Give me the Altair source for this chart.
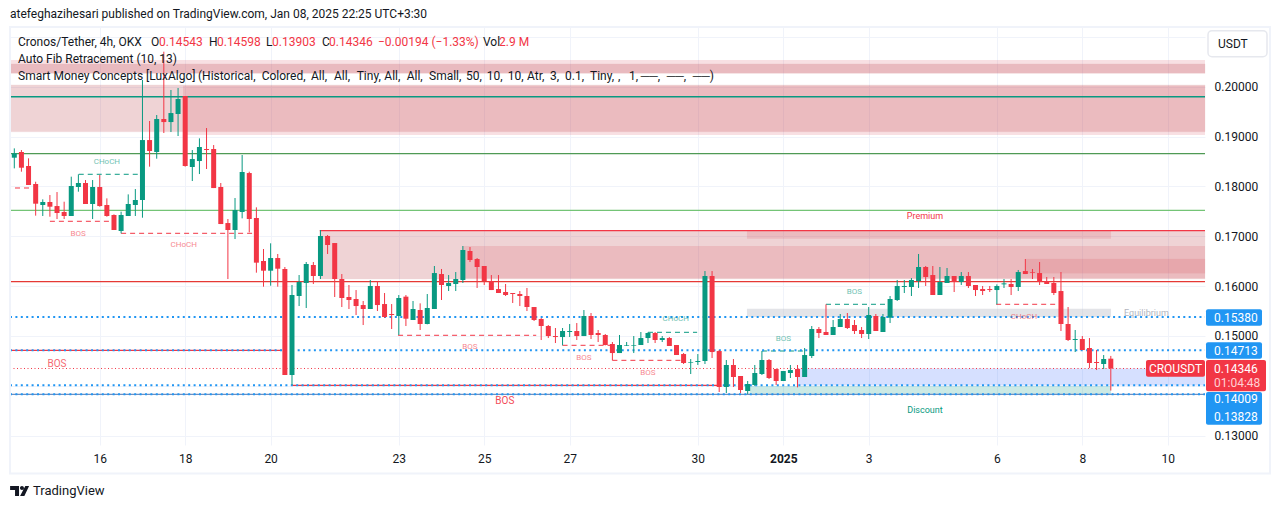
import altair as alt
import pandas as pd

opens = [0.18575,0.18689,0.18408,0.18047,0.17626,0.17686,0.17605,0.17485,0.17405,0.17987,0.18067,0.17646,0.17987,0.17626,0.17425,0.17104,0.17405,0.17626,0.17726,0.18929,0.18689,0.19351,0.19290,0.19451,0.19812,0.18388,0.18508,0.18749,0.18749,0.17987,0.17264,0.17124,0.17485,0.18267,0.17365,
0.16502,0.16308,0.16562,0.16342,0.14215,0.15800,0.16061,0.16422,0.16201,0.17004,0.16863,0.16141,0.15780,0.15740,0.15619,0.15539,0.16001,0.15639,0.15439,0.15399,0.15787,0.15319,0.15519,0.15238,0.15539,0.16241,0.16001,0.16041,0.16121,0.16703,0.16542,0.16402,0.16101,0.15940,0.15880,0.15860,0.15840,0.15800,0.15579,0.15339,0.15198,0.14997,0.14977,0.15078,0.15098,0.14997,0.15399,0.15058,0.15018,0.14837,0.14656,0.14804,0.14804,0.14817,0.14957,0.15058,0.14917,0.14957,0.14817,0.14636,0.14456,0.14476,0.14496,0.16201,0.14696,0.13974,0.14416,0.14195,0.13894,0.14015,0.14235,0.14516,0.14335,0.14095,0.14255,0.14335,0.14175,0.14596,0.15138,0.15078,0.15018,0.15178,0.15339,0.15218,0.15118,0.15038,0.15399,0.15078,0.15365,0.15720,0.15981,0.15981,0.16101,0.16382,0.16221,0.15820,0.16061,0.16201,0.16081,0.16201,0.16021,0.15940,0.15940,0.15920,0.16034,0.16041,0.15981,0.16301,0.16281,0.16261,0.16101,0.16061,0.15900,0.15238,0.14917,0.14937,0.14757,0.14476,0.14436,0.14543]
highs = [0.18762,0.18729,0.18562,0.18093,0.17739,0.17826,0.17886,0.17692,0.18194,0.18241,0.18127,0.18127,0.18227,0.17759,0.17438,0.17492,0.17839,0.17946,0.20133,0.19311,0.19431,0.20702,0.19933,0.19973,0.19812,0.18729,0.18963,0.19170,0.18829,0.18067,0.17345,0.17766,0.18629,0.18294,0.17579,
0.16743,0.16857,0.16643,0.16382,0.16021,0.16221,0.16482,0.16482,0.17124,0.17024,0.16863,0.16241,0.16021,0.15920,0.15700,0.16121,0.16101,0.15860,0.15639,0.15820,0.15820,0.15700,0.15653,0.15840,0.16402,0.16342,0.16221,0.16281,0.16803,0.16783,0.16562,0.16402,0.16221,0.16221,0.16041,0.15860,0.15900,0.15961,0.15579,0.15359,0.15218,0.15158,0.15158,0.15238,0.15258,0.15519,0.15459,0.15118,0.15038,0.14877,0.15018,0.14877,0.14997,0.15078,0.15071,0.15078,0.14997,0.14977,0.14817,0.14656,0.14536,0.14636,0.16301,0.16301,0.14716,0.14516,0.14536,0.14195,0.14095,0.14416,0.14696,0.14536,0.14235,0.14295,0.14416,0.14416,0.14757,0.15198,0.15178,0.15633,0.15319,0.15439,0.15459,0.15319,0.15178,0.15579,0.15439,0.15439,0.15800,0.16121,0.16121,0.16161,0.16643,0.16402,0.16402,0.16382,0.16362,0.16201,0.16281,0.16281,0.16021,0.16001,0.16001,0.16034,0.16141,0.16141,0.16322,0.16542,0.16342,0.16482,0.16181,0.16181,0.16281,0.15579,0.15118,0.14997,0.14957,0.14716,0.14616,0.14598]
lows = [0.18361,0.18294,0.18027,0.17412,0.17405,0.17391,0.17345,0.17345,0.17405,0.17893,0.17646,0.17345,0.17592,0.17391,0.17124,0.17057,0.17405,0.17405,0.17371,0.18395,0.18555,0.19070,0.19090,0.19010,0.18395,0.18107,0.18247,0.18348,0.17966,0.17244,0.16141,0.16943,0.17358,0.17077,0.16268,
0.15987,0.16007,0.15987,0.14215,0.14015,0.15599,0.15559,0.16041,0.16141,0.16643,0.15780,0.15579,0.15539,0.15419,0.15218,0.15539,0.15499,0.15359,0.15138,0.15018,0.15198,0.15319,0.15118,0.15232,0.15539,0.15720,0.15900,0.15900,0.16061,0.16482,0.15961,0.16021,0.15920,0.15860,0.15800,0.15660,0.15599,0.15499,0.15299,0.14917,0.14957,0.14857,0.14810,0.14977,0.14917,0.14997,0.14937,0.14877,0.14810,0.14509,0.14656,0.14797,0.14656,0.14817,0.14857,0.14857,0.14877,0.14797,0.14616,0.14436,0.14235,0.14416,0.14436,0.14556,0.13874,0.13854,0.13974,0.13854,0.13834,0.13995,0.14215,0.14135,0.14015,0.14095,0.14155,0.13968,0.14175,0.14556,0.14957,0.15018,0.15018,0.15178,0.15138,0.15038,0.14957,0.14937,0.15098,0.15078,0.15258,0.15700,0.15860,0.15800,0.15961,0.16001,0.15820,0.15820,0.16061,0.15880,0.16021,0.15961,0.15800,0.15820,0.15880,0.15633,0.15961,0.15820,0.15900,0.16241,0.16141,0.16021,0.16041,0.15820,0.15098,0.14897,0.14676,0.14716,0.14355,0.14315,0.14335,0.13903]
closes = [0.18662,0.18374,0.18027,0.17652,0.17686,0.17592,0.17465,0.17405,0.18007,0.18067,0.17646,0.17987,0.17605,0.17405,0.17124,0.17425,0.17646,0.17726,0.18929,0.18709,0.19351,0.19290,0.19471,0.19752,0.18408,0.18548,0.18789,0.18729,0.17966,0.17244,0.17124,0.17525,0.18288,0.17345,0.16469,
0.16308,0.16562,0.16348,0.14215,0.15820,0.16081,0.16442,0.16201,0.17004,0.16823,0.16141,0.15760,0.15720,0.15599,0.15539,0.16001,0.15619,0.15379,0.15419,0.15760,0.15345,0.15539,0.15238,0.15559,0.16261,0.16021,0.16061,0.16141,0.16723,0.16522,0.16382,0.16101,0.15920,0.15860,0.15820,0.15840,0.15800,0.15579,0.15319,0.15198,0.14997,0.14977,0.15098,0.15098,0.14997,0.15399,0.15018,0.15018,0.14817,0.14656,0.14817,0.14817,0.14817,0.14957,0.15058,0.14917,0.14957,0.14797,0.14616,0.14456,0.14469,0.14496,0.16201,0.14676,0.13974,0.14416,0.14175,0.13914,0.14035,0.14255,0.14516,0.14155,0.14095,0.14295,0.14315,0.14175,0.14616,0.15138,0.15058,0.15018,0.15178,0.15339,0.15158,0.15098,0.15038,0.15419,0.15098,0.15379,0.15740,0.16001,0.16001,0.16121,0.16382,0.16181,0.15820,0.16081,0.16201,0.16081,0.16201,0.16001,0.15920,0.15900,0.15920,0.16001,0.16054,0.15981,0.16281,0.16241,0.16268,0.16081,0.16041,0.15860,0.15238,0.14917,0.14937,0.14716,0.14456,0.14456,0.14536,0.14346]

tick_positions = [12,24,36,54,66,78,96,108,120,138,150,162]
tick_labels = ["16","18","20","23","25","27","30","2025","3","6","8","10"]
price_ticks = [0.13,0.14,0.15,0.16,0.17,0.18,0.19,0.20,0.21]

X_MIN, X_MAX = -0.604, 167.23
Y_MIN, Y_MAX = 0.12811, 0.21197
RED, TEAL, BLUE = "#F23645", "#089981", "#2196F3"
ZONE = "#D63A48"
DARK = "#131722"
FONT = "Roboto"

# x0, x1, low, high, colour, opacity, edge opacity
zones = pd.DataFrame([
    [X_MIN,X_MAX,0.20268,0.20534,ZONE,0.15,0.0],
    [X_MIN,X_MAX,0.20268,0.20454,"#B22833",0.20,0.3],
    [X_MIN,X_MAX,0.19096,0.20033,"#B22833",0.20,0.3],
    [23.7,X_MAX,0.19030,0.20019,ZONE,0.15,0.0],
    [42.9,X_MAX,0.16141,0.17110,"#B22833",0.20,0.2],
    [63.0,X_MAX,0.16155,0.16803,ZONE,0.15,0.0],
    [142.05,X_MAX,0.16256,0.16543,ZONE,0.15,0.2],
    [102.9,154.03,0.16950,0.17110,ZONE,0.15,0.0],
    [102.9,154.03,0.15380,0.15546,"#B2B5BE",0.35,0.0],
    [109.9,X_MAX,0.14005,0.14346,"#2962FF",0.19,0.0],
    [103.3,154.03,0.13828,0.13995,TEAL,0.20,0.0],
], columns=["x0","x1","lo","hi","color","op","edge"])

solid_lines = pd.DataFrame([
    [X_MIN,X_MAX,0.19798,TEAL],
    [X_MIN,X_MAX,0.18655,"#4F9A55"],
    [X_MIN,X_MAX,0.17520,"#74C476"],
    [X_MIN,X_MAX,0.16087,"#E53935"],
    [X_MIN,X_MAX,0.13828,"#6F8FC0"],
    [42.9,X_MAX,0.17110,RED],
    [X_MIN,37.6,0.14711,RED],
    [39.0,98.8,0.14009,RED],
], columns=["x0","x1","p","color"])

dashed_lines = pd.DataFrame([
    [0.1,2.6,0.17967,RED],[9.05,17.5,0.18242,TEAL],[5.0,13.9,0.17299,RED],
    [15.0,33.8,0.17058,RED],[53.9,73.3,0.15012,RED],[77.0,83.7,0.14811,RED],
    [84.0,94.0,0.14510,RED],[89.0,95.9,0.15072,TEAL],[105.0,110.8,0.14697,TEAL],
    [114.0,123.0,0.15634,TEAL],[137.9,146.6,0.15634,RED],
], columns=["x0","x1","p","color"])

blue_lines = pd.DataFrame([
    [X_MIN,37.6,0.15380],[39.8,X_MAX,0.15380],
    [X_MIN,37.6,0.14713],[39.8,X_MAX,0.14713],
    [X_MIN,X_MAX,0.14009],[X_MIN,X_MAX,0.13828],
], columns=["x0","x1","p"])

last_price = pd.DataFrame({"x0":[X_MIN],"x1":[X_MAX],"p":[0.14346]})

notes = pd.DataFrame([
    [13,0.18488,"CHoCH",TEAL,8,0.6],[8.95,0.17054,"BOS",RED,8,0.6],
    [23.8,0.16833,"CHoCH",RED,8,0.6],[6,0.14436,"BOS",RED,10,0.75],
    [68.9,0.13700,"BOS",RED,10,0.9],[64,0.14783,"BOS",RED,8,0.6],
    [80,0.14563,"BOS",RED,8,0.6],[89,0.14262,"BOS",RED,8,0.6],
    [92.9,0.15333,"CHoCH",TEAL,8,0.6],[108,0.14944,"BOS",TEAL,8,0.6],
    [118,0.15887,"BOS",TEAL,8,0.6],[141.8,0.15385,"CHoCH",RED,8,0.6],
    [127.9,0.17405,"Premium",RED,9,1],[127.9,0.13514,"Discount",TEAL,9,1],
    [159,0.15459,"Equilibrium","#B2B5BE",9,1],
], columns=["i","p","text","color","size","op"])

legend_words = [(18,"Smart Money Concepts [LuxAlgo]"),(198,"(Historical,"),(261.7,"Colored,"),(311,"All,"),
    (334,"All,"),(356.7,"Tiny,"),(384.3,"All,"),(406.7,"All,"),(429,"Small,"),(466,"50,"),(486.7,"10,"),
    (507.7,"10,"),(527,"Atr,"),(550,"3,"),(565,"0.1,"),(590,"Tiny,"),(618,","),(629,"1,"),
    (640.7,"\u2500\u2500,"),(666.7,"\u2500\u2500,"),(692.7,"\u2500\u2500)")]

df = pd.DataFrame({"i":range(len(opens)),"o":opens,"h":highs,"l":lows,"c":closes})
df["dir"] = ["up" if c>=o else "down" for o,c in zip(opens,closes)]

xs = alt.Scale(domain=[X_MIN,X_MAX], nice=False, zero=False, padding=0)
ys = alt.Scale(domain=[Y_MIN,Y_MAX], nice=False, zero=False, padding=0)
label_map = "{" + ",".join(f"{p}:'{t}'" for p,t in zip(tick_positions,tick_labels)) + "}"
x_axis = alt.Axis(values=tick_positions, labelExpr=f"{label_map}[datum.value]", title=None, grid=True,
                  gridColor="#F0F3FA", gridWidth=1, ticks=False, domain=False, labelPadding=8,
                  labelFont=FONT, labelFontSize=12, labelColor=DARK, labelAngle=0, labelFlush=False,
                  labelOverlap=False, labelFontWeight={"expr":"datum.value==108 ? 'bold' : 'normal'"})
y_axis = alt.Axis(values=price_ticks, orient="right", title=None, grid=True, gridColor="#F0F3FA", gridWidth=1,
                  ticks=False, domain=False, labelPadding=9, labelFont=FONT, labelFontSize=12, labelColor=DARK,
                  labelOverlap=False, labelFlush=False,
                  labelExpr="(abs(datum.value-0.14)<1e-6||abs(datum.value-0.21)<1e-6) ? '' : format(datum.value,'.5f')")
def X(f): return alt.X(f, type="quantitative", scale=xs, axis=x_axis)
def Y(f): return alt.Y(f, type="quantitative", scale=ys, axis=y_axis)
colr = alt.Color("color:N", scale=None, legend=None)
dirc = alt.Color("dir:N", scale=alt.Scale(domain=["up","down"], range=[TEAL,RED]), legend=None)

layers = [
    alt.Chart(zones).mark_rect(strokeWidth=1).encode(X("x0"), x2="x1", y=Y("lo"), y2="hi", color=colr, stroke=alt.Color("color:N", scale=None, legend=None),
        opacity=alt.Opacity("op:Q", scale=None), strokeOpacity=alt.StrokeOpacity("edge:Q", scale=None)),
    alt.Chart(solid_lines).mark_rule(strokeWidth=1.3).encode(X("x0"), x2="x1", y=Y("p"), color=colr),
    alt.Chart(dashed_lines).mark_rule(strokeWidth=1, strokeDash=[5,4]).encode(X("x0"), x2="x1", y=Y("p"), color=colr),
    alt.Chart(last_price).mark_rule(strokeWidth=1, strokeDash=[1,2.5], color=RED).encode(X("x0"), x2="x1", y=Y("p")),
    alt.Chart(blue_lines).mark_rule(strokeWidth=2, strokeDash=[2,3.4], color=BLUE).encode(X("x0"), x2="x1", y=Y("p")),
    alt.Chart(df).mark_rule(strokeWidth=1).encode(X("i"), y=Y("l"), y2="h", color=dirc),
    alt.Chart(df).mark_bar(size=5).encode(X("i"), y=Y("o"), y2="c", color=dirc),
    alt.Chart(notes).mark_text(font=FONT, baseline="middle", align="center").encode(X("i"), y=Y("p"), text="text:N", color=colr,
        size=alt.Size("size:Q", scale=None, legend=None), opacity=alt.Opacity("op:Q", scale=None)),
]

def px(X_, Y_): return dict(x=alt.value(X_-10), y=alt.value(Y_-27))
def box(x0,y0,x1,y1,fill,**kw):
    return alt.Chart(df.head(1)).mark_rect(fill=fill,**kw).encode(x=alt.value(x0-10),x2=alt.value(x1-10),y=alt.value(y0-27),y2=alt.value(y1-27))
def label(X_,Y_,t,color=DARK,size=12,align="left",weight="normal"):
    return alt.Chart(df.head(1)).mark_text(text=t,font=FONT,fontSize=size,color=color,align=align,baseline="middle",fontWeight=weight).encode(**px(X_,Y_))

layers += [
    box(1206,309.3,1262,325.7,BLUE,cornerRadius=2),
    box(1206,342.3,1262,358.7,BLUE,cornerRadius=2),
    box(1206,392,1262,424.7,BLUE,cornerRadius=2),
    box(1206,360,1266,391.3,RED,cornerRadius=2),
    box(1146,360,1205,376.7,RED,cornerRadius=2),
    box(1208,30.7,1267,56.7,"#FFFFFF",cornerRadius=4,stroke="#E6E8EE",strokeWidth=1.5),
    box(10,27,1270,473.5,"#FFFFFF",fillOpacity=0,stroke="#F0F3FA",strokeWidth=2),
    label(1214,399.3,"0.14009","#FFFFFF"),label(1214,416.7,"0.13828","#FFFFFF"),
    label(1214,317.5,"0.15380","#FFFFFF"),label(1214,350.5,"0.14713","#FFFFFF"),
    label(1214,368.5,"0.14346","#FFFFFF"),label(1214,383,"01:04:48","#FFD0D4"),
    label(1175.5,368.5,"CROUSDT","#FFFFFF",align="center"),
    label(1218,44,"USDT"),
    label(10,14,"atefeghazihesari published on TradingView.com, Jan 08, 2025 22:25 UTC+3:30"),
    label(18,42,"Cronos/Tether, 4h, OKX"),
    label(151,42,"O"),label(159,42,"0.14543",RED),
    label(209,42,"H"),label(217,42,"0.14598",RED),
    label(266,42,"L"),label(272,42,"0.13903",RED),
    label(322,42,"C"),label(329,42,"0.14346",RED),
    label(378,42,"\u22120.00194 (\u22121.33%)",RED),
    label(483,42,"Vol"),label(499,42,"2.9 M",RED),
    label(18,59,"Auto Fib Retracement (10, 13)"),
    label(33,491,"TradingView",size=13),
    alt.Chart(df.head(1)).mark_point(filled=True,fill=DARK,opacity=1,size=361,stroke=None,
        shape="M-1 -0.53H-0.06V0.53H-0.48V-0.105H-1ZM0.04 -0.32A0.21 0.21 0 1 1 0.46 -0.32A0.21 0.21 0 1 1 0.04 -0.32ZM0.6 -0.53H1L0.5 0.53H0.05Z"
    ).encode(**px(19.6,491)),
]
layers += [label(x_,76,w) for x_,w in legend_words]

chart = alt.layer(*layers).properties(
    width=1195, height=418,
    padding={"left":2,"top":19,"right":68,"bottom":56},
    autosize=alt.AutoSizeParams(type="none"),
    background="#FFFFFF",
).configure_view(strokeWidth=0)
chart.save("out.html", embed_options={"renderer":"svg","actions":False})
